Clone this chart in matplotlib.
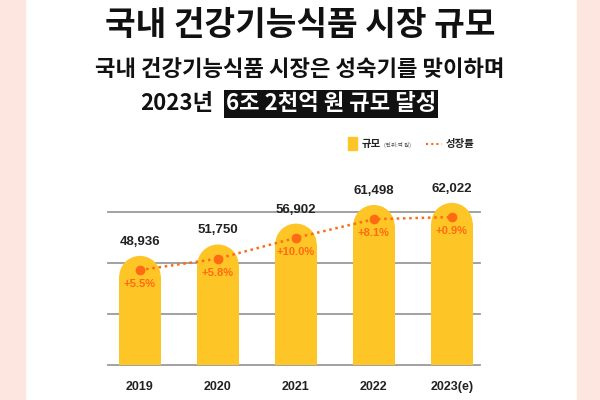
import matplotlib.pyplot as plt
from matplotlib.patches import Ellipse, Rectangle
from matplotlib.lines import Line2D

plt.rcParams['font.family'] = ['Noto Sans CJK KR', 'Noto Sans CJK JP', 'Noto Sans CJK SC', 'DejaVu Sans']

years = ['2019', '2020', '2021', '2022', '2023(e)']
market = [48936, 51750, 56902, 61498, 62022]
growth = ['+5.5%', '+5.8%', '+10.0%', '+8.1%', '+0.9%']

YELLOW = '#fdc526'
ORANGE = '#ff6a13'

fig = plt.figure(figsize=(6, 4), dpi=100)
fig.patch.set_facecolor('white')
# pink side strips
fig.add_artist(Rectangle((0, 0), 25 / 600, 1, transform=fig.transFigure, color='#fce6df', zorder=0))
fig.add_artist(Rectangle((577 / 600, 0), 23 / 600, 1, transform=fig.transFigure, color='#fce6df', zorder=0))

ax = fig.add_axes([108 / 600, 35 / 400, 372 / 600, 175 / 400])
ax.set_xlim(-0.41, 4.36)
ax.set_ylim(22000, 65200)
for s in ax.spines.values():
    s.set_visible(False)
ax.set_xticks([])
ax.set_yticks([])
ax.patch.set_alpha(0)

for g in [22000, 34600, 47200, 59800]:
    ax.axhline(g, color='#9a9a9a', lw=1.3, zorder=1)

w = 0.53
cap_h = 10100
xs = list(range(len(years)))
dot_y = []
for x, v, lab in zip(xs, market, years):
    ax.add_patch(Rectangle((x - w / 2, 22000), w, v - cap_h / 2 - 22000, color=YELLOW, lw=0, zorder=2))
    ax.add_patch(Ellipse((x, v - cap_h / 2), w, cap_h, color=YELLOW, lw=0, zorder=2))
    ax.text(x, v + 2000, f'{v:,}', ha='center', va='bottom', fontsize=9.5, fontweight='bold',
            family='Liberation Sans', color='#222222')
    ax.text(x, 18000, lab, ha='center', va='top', fontsize=9, fontweight='bold',
            family='Liberation Sans', color='#222222')
    dot_y.append(v - 3500)

ax.plot(xs, dot_y, ls=(0, (1, 1.5)), lw=1.8, color=ORANGE, zorder=3,
        marker='o', markersize=6, markevery=list(range(len(xs))))
for x, y, g in zip(xs, dot_y, growth):
    ax.text(x, y - 2200, g, ha='center', va='top', fontsize=8, fontweight='bold',
            family='Liberation Sans', color=ORANGE, zorder=4)

for c in ax.get_children():
    c.set_clip_on(False)

fig.text(0.5, 1 - 25 / 400, '국내 건강기능식품 시장 규모', ha='center', va='center',
         fontsize=24, fontweight='heavy', color='#111111')
fig.text(0.5, 1 - 70 / 400, '국내 건강기능식품 시장은 성숙기를 맞이하며', ha='center', va='center',
         fontsize=16, fontweight='heavy', color='#111111')
fig.text(213 / 600, 1 - 104 / 400, '2023년', ha='right', va='center', fontsize=16, fontweight='heavy', color='#111111')
fig.text(226 / 600, 1 - 104 / 400, '6조 2천억 원 규모 달성', ha='left', va='center', fontsize=16,
         fontweight='heavy', color='white',
         bbox=dict(boxstyle='square,pad=0.1', fc='#111111', ec='none'))

# legend
fig.add_artist(Rectangle((348 / 600, 1 - 150 / 400), 9 / 600, 13 / 400, transform=fig.transFigure, color=YELLOW))
fig.text(362 / 600, 1 - 144 / 400, '규모', ha='left', va='center', fontsize=7.5, fontweight='heavy', color='#222222')
fig.text(384 / 600, 1 - 145 / 400, '(단위:억 원)', ha='left', va='center', fontsize=4, color='#444444')
fig.add_artist(Line2D([426 / 600, 442 / 600], [1 - 144 / 400] * 2, transform=fig.transFigure,
                      color=ORANGE, ls=(0, (1, 1.5)), lw=1.5))
fig.text(446 / 600, 1 - 144 / 400, '성장률', ha='left', va='center', fontsize=7.5, fontweight='heavy', color='#222222')

fig.savefig('out.png', dpi=100)
